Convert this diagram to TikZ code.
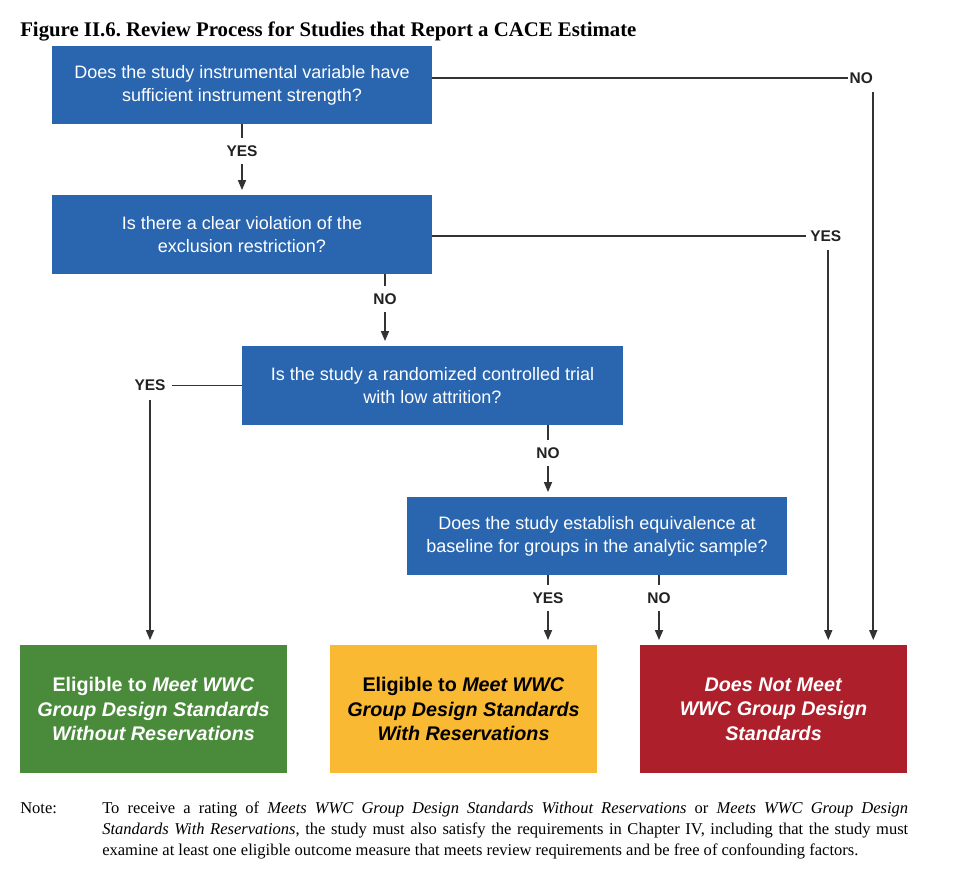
\documentclass[tikz,border=0pt]{standalone}
\usepackage{fontspec}
\setmainfont{Liberation Serif}
\setsansfont{Liberation Sans}
\usetikzlibrary{arrows.meta,calc}
\definecolor{qblue}{HTML}{2A66AF}
\definecolor{qgreen}{HTML}{4A8B3B}
\definecolor{qyellow}{HTML}{F9B933}
\definecolor{qred}{HTML}{AE1F2C}
\definecolor{linegray}{HTML}{333333}
\definecolor{lbltext}{HTML}{222222}
\frenchspacing
\begin{document}
\begin{tikzpicture}[x=0.75pt,y=-0.75pt,
  qbox/.style={fill=qblue, text=white, font=\sffamily\fontsize{13.5}{17.25}\selectfont, align=center, minimum width=285pt, minimum height=58.5pt, inner sep=0pt},
  rbox/.style={minimum width=200.25pt, minimum height=96pt, font=\sffamily\bfseries\fontsize{14.8}{18.4}\selectfont, align=center, inner sep=0pt},
  lbl/.style={font=\sffamily\bfseries\fontsize{11.6}{13}\selectfont, text=lbltext, fill=white, inner xsep=1.5pt, inner ysep=5.5pt},
  conn/.style={draw=linegray, line width=1.25pt},
  arr/.style={conn, -{Triangle[length=7.5pt,width=6pt]}, shorten >=3.5pt}]
\useasboundingbox (0,0) rectangle (958,882);
\fill[white] (0,0) rectangle (958,882);

\node[anchor=base west, font=\bfseries\fontsize{15.6}{18}\selectfont, inner sep=0pt] (title) at (20,36) {Figure II.6. Review Process for Studies that Report a CACE Estimate};

\node[qbox] (b1) at (242,85) {Does the study instrumental variable have\\sufficient instrument strength?};
\node[qbox, minimum height=59.25pt] (b2) at (242,234.5) {Is there a clear violation of the\\exclusion restriction?};
\node[qbox, minimum width=285.75pt, minimum height=59.25pt] (b3) at (432.5,385.5) {Is the study a randomized controlled trial\\with low attrition?};
\node[qbox] (b4) at (597,536) {Does the study establish equivalence at\\baseline for groups in the analytic sample?};

\node[rbox, fill=qgreen, text=white] (g) at (153.5,709) {Eligible to \textit{Meet WWC}\\\textit{Group Design Standards}\\\textit{Without Reservations}};
\node[rbox, fill=qyellow, text=black] (y) at (463.5,709) {Eligible to \textit{Meet WWC}\\\textit{Group Design Standards}\\\textit{With Reservations}};
\node[rbox, fill=qred, text=white] (r) at (773.5,709) {\textit{Does Not Meet}\\\textit{WWC Group Design}\\\textit{Standards}};

% vertical chain
\draw[arr] (b1.south) -- node[lbl,pos=0.38] (l1) {YES} (b2.north);
\coordinate (s2) at ($(b2.south)+(143,0)$);
\draw[arr] (s2) -- node[lbl,pos=0.35] (l2) {NO} (s2 |- b3.north);
\coordinate (s3) at ($(b3.south)+(115.5,0)$);
\draw[arr] (s3) -- node[lbl,pos=0.39] (l3) {NO} (s3 |- b4.north);
\coordinate (s4y) at ($(b4.south)+(-49,0)$);
\draw[arr] (s4y) -- node[lbl,pos=0.33] (l4) {YES} (s4y |- y.north);
\coordinate (s4n) at ($(b4.south)+(62,0)$);
\draw[arr] (s4n) -- node[lbl,pos=0.33] (l5) {NO} (s4n |- r.north);

% right side: box1 NO
\coordinate (e1) at ($(b1.east)+(0,-7)$);
\coordinate (k1) at ($(r.north east)+(-34,0)$);
\draw[arr] (e1) -- (e1 -| k1) -- (k1);
\node[lbl, inner ysep=6.5pt] (l6) at ($(e1 -| k1)+(-12,0)$) {NO};

% right side: box2 YES
\coordinate (e2) at ($(b2.east)+(0,1.5)$);
\coordinate (k2) at ($(r.north east)+(-79,0)$);
\draw[arr] (e2) -- (e2 -| k2) -- (k2);
\node[lbl, inner xsep=3pt, inner ysep=6.5pt] (l7) at ($(e2 -| k2)+(-2.5,0)$) {YES};

% left side: box3 YES
\coordinate (k3) at ($(g.north)+(-3.5,0)$);
\draw[arr] (b3.west) -- (b3.west -| k3) -- (k3);
\node[lbl, inner xsep=5pt, inner ysep=6.5pt] (l8) at (b3.west -| k3) {YES};

% note
\node[anchor=base west, inner sep=0pt, font=\fontsize{12.4}{15.75}\selectfont] (nl) at (20,813) {Note:};
\node[anchor=base west, inner sep=0pt, text width=604.5pt, align=justify, font=\fontsize{12.4}{15.75}\selectfont] (nt) at (102,813) {To receive a rating of \textit{Meets WWC Group Design Standards Without Reservations} or \textit{Meets WWC Group Design\linebreak Standards With Reservations}, the study must also satisfy the requirements in Chapter IV, including that the study must\linebreak examine at least one eligible outcome measure that meets review requirements and be free of confounding factors.};
\end{tikzpicture}
\end{document}
